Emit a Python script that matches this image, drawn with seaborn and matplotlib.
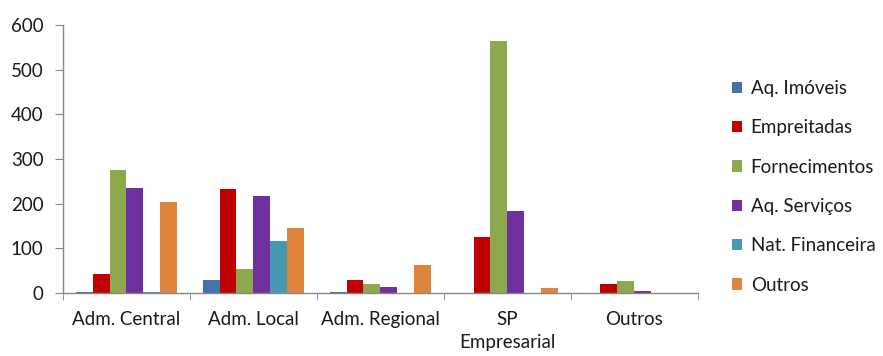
import matplotlib
matplotlib.use("Agg")
import matplotlib.pyplot as plt
import numpy as np
import pandas as pd
import seaborn as sns

categorias = ["Adm. Central", "Adm. Local", "Adm. Regional", "SP\nEmpresarial", "Outros"]
tipos = ["Aq. Imóveis", "Empreitadas", "Fornecimentos", "Aq. Serviços", "Nat. Financeira", "Outros"]

aq_imoveis = [2, 29, 2, 0, 0]
empreitadas = [43, 232, 29, 126, 20]
fornecimentos = [276, 54, 20, 565, 27]
aq_servicos = [234, 218, 13, 184, 4]
nat_financeira = [2, 117, 0, 0, 0]
outros = [204, 145, 62, 12, 0]

cores = ["#4572A7", "#C00000", "#8EA84E", "#7030A0", "#4599B0", "#DF843C"]

series = [aq_imoveis, empreitadas, fornecimentos, aq_servicos, nat_financeira, outros]
rows = []
for tipo, vals in zip(tipos, series):
    for cat, v in zip(categorias, vals):
        rows.append({"categoria": cat, "tipo": tipo, "valor": v})
df = pd.DataFrame(rows)

sns.set_style("white")
plt.rcParams["font.family"] = ["Lato", "DejaVu Sans"]
fs = 13.5

fig = plt.figure(figsize=(8.83, 3.56), dpi=100)
ax = fig.add_axes([0.0713, 0.177, 0.719, 0.753])

sns.barplot(data=df, x="categoria", y="valor", hue="tipo", order=categorias,
            hue_order=tipos, palette=cores, width=0.8, gap=0, linewidth=0,
            saturation=1, ax=ax)

ax.set_ylim(0, 600)
ax.set_xlim(-0.5, len(categorias) - 0.5)
ax.set_yticks(np.arange(0, 601, 100))
ax.set_xlabel("")
ax.set_ylabel("")

gray = "#868686"
txt = "#1a1a1a"
for s in ["top", "right"]:
    ax.spines[s].set_visible(False)
for s in ["left", "bottom"]:
    ax.spines[s].set_color(gray)
    ax.spines[s].set_linewidth(1.0)

ax.tick_params(axis="y", which="major", left=True, length=6, color=gray,
               labelsize=fs, labelcolor=txt, pad=8)
ax.tick_params(axis="x", which="major", bottom=False, length=0,
               labelsize=fs, labelcolor=txt, pad=13)
ax.set_xticks(np.arange(-0.5, len(categorias)), minor=True)
ax.tick_params(axis="x", which="minor", bottom=True, length=5, color=gray)
for lbl in ax.get_xticklabels():
    lbl.set_verticalalignment("top")
    lbl.set_linespacing(1.4)

leg = ax.legend(loc="center left", bbox_to_anchor=(1.042, 0.396), frameon=False,
                fontsize=fs, handlelength=0.55, handleheight=0.55,
                handletextpad=0.45, labelspacing=1.19, borderaxespad=0)
for t in leg.get_texts():
    t.set_color(txt)

fig.savefig("out.png", dpi=100)
